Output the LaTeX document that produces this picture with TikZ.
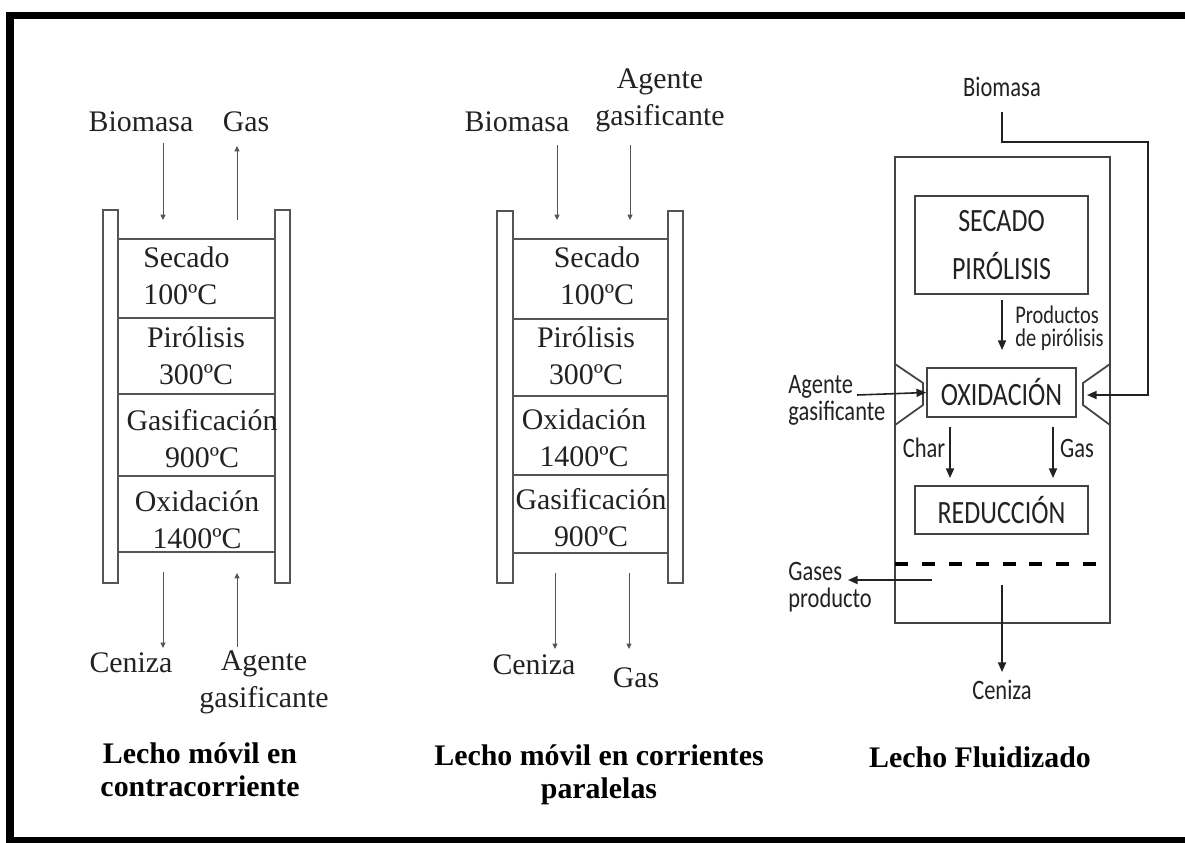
\documentclass[tikz,border=0pt]{standalone}
\usepackage{fontspec}
\setmainfont{Liberation Serif}
\newfontfamily\rsans[FakeStretch=0.8]{Carlito}
\usetikzlibrary{arrows.meta}
\definecolor{ink}{HTML}{222222}
\definecolor{pen}{HTML}{555555}
\tikzset{
  lbl/.style={font=\fontsize{17}{21}\selectfont, text=ink, inner sep=0pt, align=center},
  ttl/.style={font=\fontsize{17}{18.5}\selectfont\bfseries, inner sep=0pt, align=center},
  wall/.style={draw=pen, line width=0.7pt},
  zone/.style={draw=pen, line width=0.85pt},
  flow/.style={draw=pen, line width=0.45pt, -{Triangle[length=3pt,width=2.8pt]}},
  rlbl/.style={font=\rsans\fontsize{16}{15.3}\selectfont, text=ink, inner sep=0pt, align=left},
  rbox/.style={draw=ink!85, line width=1pt},
  rflow/.style={draw=ink, line width=0.9pt, -{Triangle[length=5.5pt,width=4.6pt]}},
}
\begin{document}
\begin{tikzpicture}[x=0.02cm, y=-0.02cm]
  \useasboundingbox[fill=white] (0,0) rectangle (1185,842);
  % frame
  \draw[line width=4pt] (1185,15.5) -- (10,15.5) -- (10,840.5) -- (1185,840.5);

  % lecho movil en contracorriente
  \draw[wall] (103,210) rectangle (118,583) (275,210) rectangle (290,583);
  \foreach \y in {239,318,394,476,552} \draw[zone] (118,\y) -- (275,\y);
  \node[lbl] (lbio) at (141,122) {Biomasa};
  \node[lbl] (lgas) at (246,122) {Gas};
  \node[lbl, anchor=west, align=left] (lsec) at (143,276) {Secado\\100ºC};
  \node[lbl] (lpir) at (196,356) {Pirólisis\\300ºC};
  \node[lbl] (lgsf) at (202,439) {Gasificación\\900ºC};
  \node[lbl] (loxi) at (197,520) {Oxidación\\1400ºC};
  \node[lbl] (lcen) at (131,663) {Ceniza};
  \node[lbl] (lage) at (264,682) {Agente\\gasificante};
  \node[ttl] (ltit) at (200,770) {Lecho móvil en\\contracorriente};
  \coordinate (l1a) at (163,143); \coordinate (l1b) at (163,220);
  \coordinate (l2a) at (237,220); \coordinate (l2b) at (237,146);
  \coordinate (l3a) at (163,572); \coordinate (l3b) at (163,648);
  \coordinate (l4a) at (237,647); \coordinate (l4b) at (237,573);
  \draw[flow] (l1a) -- (l1b);
  \draw[flow] (l2a) -- (l2b);
  \draw[flow] (l3a) -- (l3b);
  \draw[flow] (l4a) -- (l4b);

  % lecho movil en corrientes paralelas
  \draw[wall] (497,211) rectangle (513,583) (668,211) rectangle (683,583);
  \foreach \y in {239,319,396,475,553} \draw[zone] (513,\y) -- (668,\y);
  \node[lbl] (mbio) at (517,122) {Biomasa};
  \node[lbl] (mage) at (660,100) {Agente\\gasificante};
  \node[lbl] (msec) at (597,276) {Secado\\100ºC};
  \node[lbl] (mpir) at (586,356) {Pirólisis\\300ºC};
  \node[lbl] (moxi) at (584,438) {Oxidación\\1400ºC};
  \node[lbl] (mgsf) at (591,518) {Gasificación\\900ºC};
  \node[lbl] (mcen) at (534,665) {Ceniza};
  \node[lbl] (mgas) at (636,678) {Gas};
  \node[ttl] (mtit) at (599,775) {Lecho móvil en corrientes\\paralelas};
  \coordinate (m1a) at (557,145); \coordinate (m1b) at (557,220);
  \coordinate (m2a) at (630,145); \coordinate (m2b) at (630,220);
  \coordinate (m3a) at (555,573); \coordinate (m3b) at (555,649);
  \coordinate (m4a) at (629,573); \coordinate (m4b) at (629,649);
  \draw[flow] (m1a) -- (m1b);
  \draw[flow] (m2a) -- (m2b);
  \draw[flow] (m3a) -- (m3b);
  \draw[flow] (m4a) -- (m4b);

  % lecho fluidizado
  \draw[rbox] (895,157) rectangle (1110,623);
  \draw[rbox] (895,364) -- (923,383) -- (923,405) -- (895,425)
              (1110,364) -- (1083,383) -- (1083,405) -- (1110,425);
  \draw[line width=2.3pt, dash pattern=on 7.4pt off 7.9pt] (895,564) -- (1103,564);
  \node[rbox, minimum width=3.46cm, minimum height=1.96cm, align=center,
        font=\rsans\fontsize{18.5}{27}\selectfont, text=ink] (secpir) at (1001.5,245) {SECADO\\PIRÓLISIS};
  \node[rbox, minimum width=2.98cm, minimum height=0.98cm,
        font=\rsans\fontsize{18.5}{20}\selectfont, text=ink] (oxid) at (1001.5,392.5) {OXIDACIÓN};
  \node[rbox, minimum width=3.46cm, minimum height=0.96cm,
        font=\rsans\fontsize{18.5}{20}\selectfont, text=ink] (redu) at (1001.5,510) {REDUCCIÓN};
  \node[rlbl] (fbio) at (1002,87) {Biomasa};
  \node[rlbl, anchor=west, font=\rsans\fontsize{14.5}{13}\selectfont] (fprod) at (1015,328) {Productos\\de pirólisis};
  \node[rlbl, anchor=west] (fage) at (788,400) {Agente\\gasificante};
  \node[rlbl] (fchar) at (924,448) {Char};
  \node[rlbl] (fgas) at (1077,448) {Gas};
  \node[rlbl, anchor=west] (fgpr) at (788,587) {Gases\\producto};
  \node[rlbl] (fcen) at (1002,690) {Ceniza};
  \node[ttl] (ftit) at (980,757) {Lecho Fluidizado};
  \coordinate (f1a) at (1002,112); \coordinate (f1b) at (1087,395);
  \coordinate (f2a) at (857,395);
  \coordinate (f3a) at (1002,300); \coordinate (f3b) at (1002,350);
  \coordinate (f4a) at (950,427); \coordinate (f4b) at (950,478);
  \coordinate (f5a) at (1053,427); \coordinate (f5b) at (1053,478);
  \coordinate (f6a) at (932,580); \coordinate (f6b) at (848,580);
  \coordinate (f7a) at (1002,585); \coordinate (f7b) at (1002,672);
  \draw[rflow] (f1a) |- (1148,142) |- (f1b);
  \draw[rflow] (f2a) -- (oxid.west);
  \draw[rflow] (f3a) -- (f3b);
  \draw[rflow] (f4a) -- (f4b);
  \draw[rflow] (f5a) -- (f5b);
  \draw[rflow] (f6a) -- (f6b);
  \draw[rflow] (f7a) -- (f7b);
\end{tikzpicture}
\end{document}
